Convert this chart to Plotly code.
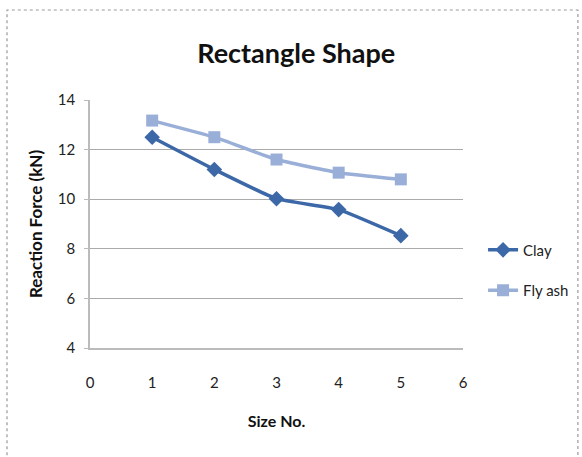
import plotly.graph_objects as go

size_no = [1, 2, 3, 4, 5]
clay = [12.5, 11.2, 10.02, 9.58, 8.53]
fly_ash = [13.17, 12.5, 11.6, 11.07, 10.8]

x_ticks = [0, 1, 2, 3, 4, 5, 6]
y_ticks = [4, 6, 8, 10, 12, 14]

FONT = "Lato"

fig = go.Figure()
fig.add_trace(go.Scatter(
    x=size_no, y=clay, name="Clay", mode="lines+markers", legendgroup="clay",
    line=dict(color="#3D68A8", width=3.5, shape="spline", smoothing=0.4),
    marker=dict(symbol="diamond", size=12, color="#3D68A8"),
))
fig.add_trace(go.Scatter(
    x=size_no, y=fly_ash, name="Fly ash", mode="lines+markers", legendgroup="fly",
    line=dict(color="#9AAFD7", width=3.5, shape="spline", smoothing=0.4),
    marker=dict(symbol="square", size=12, color="#9AAFD7"),
))

fig.update_layout(
    width=582, height=457,
    margin=dict(l=90, r=119, t=100, b=109, autoexpand=False),
    paper_bgcolor="white", plot_bgcolor="white",
    font=dict(family=FONT, color="#222222"),
    title=dict(text="<b>Rectangle Shape</b>", x=0.509, xanchor="center",
               xref="container", y=1 - 54 / 457, yanchor="middle",
               font=dict(size=27, family=FONT, color="#111111")),
    legend=dict(xref="container", yref="container", x=0.83, y=0.409,
                xanchor="left", yanchor="middle",
                font=dict(size=15, family=FONT, color="#222222"),
                traceorder="grouped", tracegroupgap=18, itemwidth=30,
                bgcolor="rgba(0,0,0,0)"),
    showlegend=True,
)
fig.update_xaxes(
    range=[0, 6], tickvals=x_ticks, ticktext=[str(v) for v in x_ticks],
    showgrid=False, zeroline=False,
    showline=True, linecolor="#BBBBBB", linewidth=1.5,
    ticks="", ticklabelstandoff=20,
    tickfont=dict(size=15, family=FONT, color="#222222"),
    title=dict(text="<b>Size No.</b>", standoff=26,
               font=dict(size=16, family=FONT, color="#111111")),
)
fig.update_yaxes(
    range=[4, 14], tickvals=y_ticks, ticktext=[str(v) for v in y_ticks],
    showgrid=True, gridcolor="#AAAAAA", gridwidth=1.2, zeroline=False,
    showline=True, linecolor="#BBBBBB", linewidth=1.5,
    ticks="outside", ticklen=4, tickcolor="#BBBBBB",
    ticklabelstandoff=6,
    tickfont=dict(size=15, family=FONT, color="#222222"),
    title=dict(text="<b>Reaction Force (kN)</b>", standoff=11,
               font=dict(size=17, family=FONT, color="#111111")),
)

# outer chart frame
fig.add_shape(type="rect", xref="paper", yref="paper",
              x0=-0.2225, x1=1.308, y0=-0.5, y1=1.363,
              line=dict(color="#999999", width=1.2, dash="dot"), layer="below")

fig.write_html("out.html")
